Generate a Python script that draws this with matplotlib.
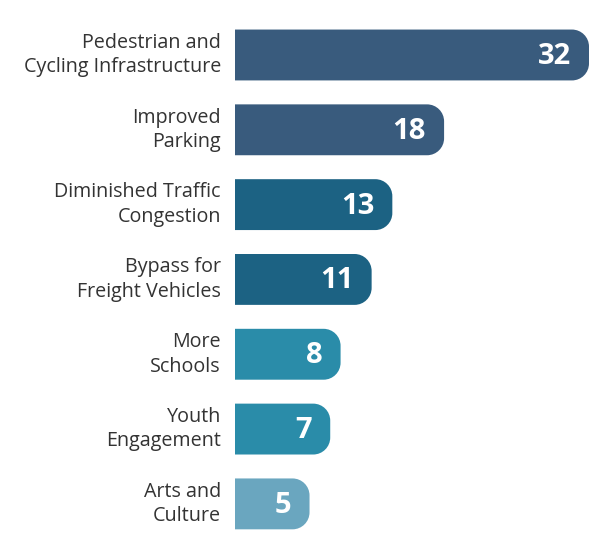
import matplotlib.pyplot as plt
from matplotlib.path import Path
from matplotlib.patches import PathPatch

# Data (top to bottom)
labels = [
    "Pedestrian and\nCycling Infrastructure",
    "Improved\nParking",
    "Diminished Traffic\nCongestion",
    "Bypass for\nFreight Vehicles",
    "More\nSchools",
    "Youth\nEngagement",
    "Arts and\nCulture",
]
values = [32, 18, 13, 11, 8, 7, 5]
colors = ["#395b7d", "#395b7d", "#1c6283", "#1c6283",
          "#2a8ca9", "#2a8ca9", "#6aa6bf"]

plt.rcParams["font.family"] = ["Open Sans", "DejaVu Sans"]

fig = plt.figure(figsize=(5.89, 5.60), dpi=100)
ax = fig.add_axes([235 / 589, 0, 354 / 589, 1])

base = -2.2  # bars start a bit left of zero, as in the infographic
bar_h = 0.68
ax.set_xlim(base, max(values))
ax.set_ylim(6.75, -0.735)
ax.axis("off")

fig.canvas.draw()
# corner radius in pixels converted to data units
px_x = ax.transData.transform((1, 0))[0] - ax.transData.transform((0, 0))[0]
px_y = abs(ax.transData.transform((0, 1))[1] - ax.transData.transform((0, 0))[1])
r = 17
rx, ry = r / px_x, r / px_y
k = 0.5523

for i, (v, c) in enumerate(zip(values, colors)):
    y0, y1 = i - bar_h / 2, i + bar_h / 2
    x1 = v
    verts = [
        (base, y0), (x1 - rx, y0),
        (x1 - rx + k * rx, y0), (x1, y0 + ry - k * ry), (x1, y0 + ry),
        (x1, y1 - ry),
        (x1, y1 - ry + k * ry), (x1 - rx + k * rx, y1), (x1 - rx, y1),
        (base, y1), (base, y0),
    ]
    codes = [Path.MOVETO, Path.LINETO,
             Path.CURVE4, Path.CURVE4, Path.CURVE4,
             Path.LINETO,
             Path.CURVE4, Path.CURVE4, Path.CURVE4,
             Path.LINETO, Path.CLOSEPOLY]
    ax.add_patch(PathPatch(Path(verts, codes), facecolor=c, edgecolor="none"))
    ax.text(x1 - 18 / px_x, i + 0.02, str(v), color="white", fontsize=21,
            fontweight="bold", ha="right", va="center")
    fig.text(221 / 589, ax.transData.transform((0, i))[1] / 560, labels[i],
             ha="right", va="center", fontsize=14.2, color="#333333",
             linespacing=1.3)

fig.savefig("out.png", dpi=100)
